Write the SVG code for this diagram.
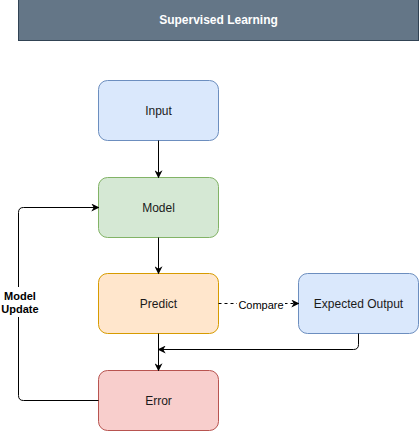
<svg xmlns="http://www.w3.org/2000/svg" width="419" height="431" viewBox="0 0 419 431">
<defs>
<style>
.t{font-family:"Liberation Sans",Arial,sans-serif;font-size:12px;fill:#1a1a1a;text-anchor:middle;dominant-baseline:central}
.n{stroke-width:1}
.c{fill:none;stroke:#000;stroke-width:1}
.lb{font-family:"Liberation Sans",Arial,sans-serif;font-size:11px;fill:#000;text-anchor:middle;dominant-baseline:central}
</style>
<marker id="ah" viewBox="0 0 10 10" refX="9" refY="5" markerWidth="8" markerHeight="8" markerUnits="userSpaceOnUse" orient="auto">
<path d="M0,0 L10,5 L0,10 L3,5 Z" fill="#000"/>
</marker>
</defs>
<rect width="419" height="431" fill="#fff"/>
<g id="title">
<rect x="18.5" y="-0.5" width="400" height="41" fill="#647687" stroke="#314354"/>
<text x="218.5" y="20" class="t" style="fill:#fff;font-weight:bold">Supervised Learning</text>
</g>
<g id="input">
<rect x="98.5" y="80.5" width="120" height="60" rx="9" fill="#dae8fc" stroke="#6c8ebf"/>
<text x="158.5" y="110.5" class="t">Input</text>
</g>
<g id="model">
<rect x="98.5" y="177.5" width="120" height="60" rx="9" fill="#d5e8d4" stroke="#82b366"/>
<text x="158.5" y="207.5" class="t">Model</text>
</g>
<g id="predict">
<rect x="98.5" y="273.5" width="120" height="60" rx="9" fill="#ffe6cc" stroke="#d79b00"/>
<text x="158.5" y="303.5" class="t">Predict</text>
</g>
<g id="expected">
<rect x="298.5" y="273.5" width="120" height="60" rx="9" fill="#dae8fc" stroke="#6c8ebf"/>
<text x="358.5" y="303.5" class="t">Expected Output</text>
</g>
<g id="error">
<rect x="98.5" y="370.5" width="120" height="60" rx="9" fill="#f8cecc" stroke="#b85450"/>
<text x="158.5" y="400.5" class="t">Error</text>
</g>
<g id="connectors">
<path class="c" d="M158.5,140.5 V177.5" marker-end="url(#ah)"/>
<path class="c" d="M158.5,237.5 V273.5" marker-end="url(#ah)"/>
<path class="c" d="M158.5,333.5 V370.5" marker-end="url(#ah)"/>
<path class="c" d="M218.5,303.5 H298.5" stroke-dasharray="3,3" marker-end="url(#ah)"/>
<rect x="237" y="297" width="48" height="14" fill="#fff"/>
<text x="261" y="304.5" class="lb">Compare</text>
<path class="c" d="M358.5,333.5 V344.5 Q358.5,349.5 353.5,349.5 H158.5" marker-end="url(#ah)"/>
<path class="c" d="M98.5,400.5 H23.5 Q18.5,400.5 18.5,395.5 V212.5 Q18.5,207.5 23.5,207.5 H98.5" marker-end="url(#ah)"/>
<rect x="2" y="287" width="38" height="30" fill="#fff"/>
<text class="lb" style="font-weight:bold"><tspan x="20" y="296">Model</tspan><tspan x="20" y="309">Update</tspan></text>
</g>
</svg>
